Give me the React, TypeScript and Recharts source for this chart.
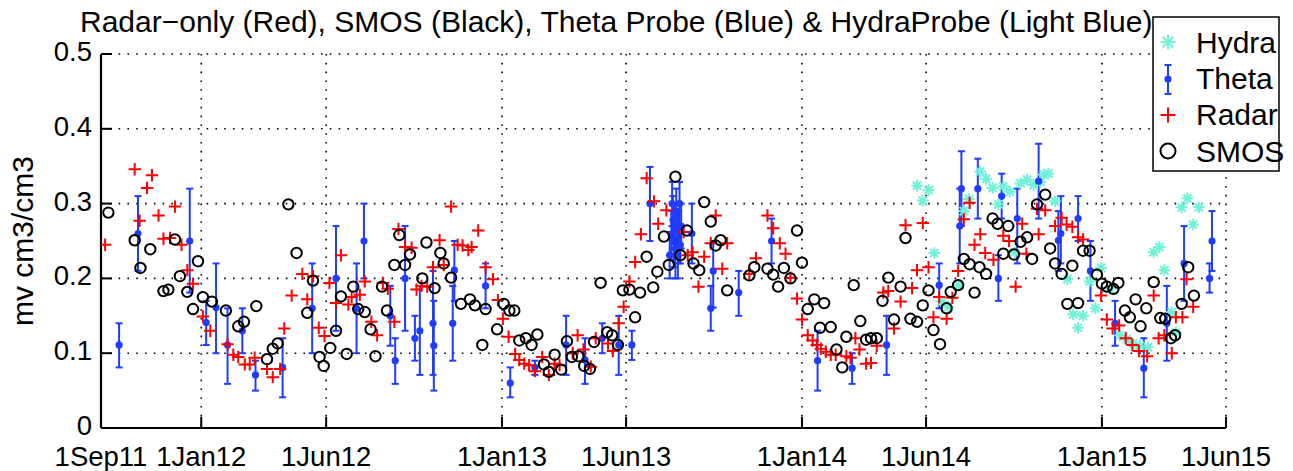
import React from "react";
import { ScatterChart, Scatter, XAxis, YAxis, CartesianGrid, ErrorBar } from "recharts";

// x values are days since 1 Sep 2011
const tickDays = [0, 122, 274, 488, 639, 853, 1004, 1218, 1369];
const tickLabels = ["1Sep11", "1Jan12", "1Jun12", "1Jan13", "1Jun13", "1Jan14", "1Jun14", "1Jan15", "1Jun15"];
const yTicks = [0, 0.1, 0.2, 0.3, 0.4, 0.5];

const titleText = "Radar\u2212only (Red), SMOS (Black), Theta Probe (Blue) & HydraProbe (Light Blue)";
const yLabel = "mv cm3/cm3";
const legendNames = ["Hydra", "Theta", "Radar", "SMOS"];

// [day, mv]
const radar: [number, number][] = [
  [5, 0.245], [41, 0.346], [47, 0.277], [56, 0.321], [62, 0.338], [70, 0.284], [76, 0.253], [84, 0.254],
  [90, 0.296], [98, 0.245], [105, 0.211], [112, 0.193], [124, 0.149], [133, 0.13], [154, 0.112], [161, 0.098],
  [167, 0.095], [175, 0.085], [181, 0.085], [187, 0.094], [202, 0.079], [209, 0.068], [218, 0.079], [223, 0.133],
  [232, 0.177], [245, 0.206], [251, 0.172], [258, 0.203], [265, 0.134], [272, 0.123], [278, 0.194], [286, 0.167],
  [292, 0.231], [301, 0.165], [305, 0.175], [315, 0.178], [321, 0.196], [329, 0.142], [336, 0.124], [343, 0.194],
  [349, 0.186], [357, 0.142], [362, 0.266], [370, 0.242], [378, 0.241], [384, 0.185], [390, 0.19], [397, 0.189],
  [404, 0.215], [412, 0.251], [417, 0.218], [426, 0.296], [434, 0.245], [440, 0.244], [447, 0.238], [451, 0.242],
  [459, 0.264], [468, 0.215], [477, 0.199], [483, 0.171], [489, 0.146], [496, 0.122], [504, 0.099], [509, 0.091],
  [515, 0.086], [521, 0.084], [528, 0.076], [537, 0.095], [545, 0.071], [552, 0.086], [558, 0.084], [574, 0.1],
  [580, 0.124], [587, 0.105], [596, 0.082], [602, 0.12], [617, 0.113], [623, 0.103], [630, 0.14], [636, 0.162],
  [643, 0.196], [650, 0.222], [657, 0.259], [664, 0.334], [673, 0.303], [678, 0.273], [688, 0.291], [709, 0.262],
  [714, 0.231], [720, 0.235], [727, 0.189], [734, 0.229], [742, 0.247], [748, 0.284], [756, 0.213], [762, 0.247],
  [789, 0.206], [797, 0.227], [811, 0.284], [818, 0.267], [826, 0.247], [833, 0.233], [839, 0.201], [847, 0.173],
  [853, 0.145], [860, 0.124], [866, 0.117], [871, 0.111], [876, 0.106], [882, 0.102], [888, 0.098], [894, 0.098],
  [907, 0.096], [912, 0.094], [918, 0.12], [923, 0.105], [931, 0.086], [937, 0.087], [944, 0.11], [952, 0.181],
  [958, 0.183], [965, 0.133], [973, 0.169], [979, 0.271], [987, 0.187], [993, 0.211], [1000, 0.274], [1007, 0.215],
  [1013, 0.148], [1020, 0.175], [1029, 0.146], [1036, 0.174], [1043, 0.21], [1050, 0.279], [1057, 0.301], [1063, 0.245],
  [1070, 0.259], [1076, 0.234], [1086, 0.225], [1098, 0.257], [1105, 0.25], [1113, 0.189], [1121, 0.273], [1126, 0.233],
  [1139, 0.293], [1141, 0.259], [1149, 0.291], [1161, 0.27], [1169, 0.281], [1175, 0.272], [1182, 0.269], [1189, 0.255],
  [1195, 0.252], [1217, 0.177], [1224, 0.145], [1231, 0.133], [1239, 0.137], [1247, 0.12], [1255, 0.111], [1263, 0.103],
  [1273, 0.096], [1281, 0.177], [1287, 0.12], [1294, 0.124], [1303, 0.1], [1308, 0.148], [1316, 0.148], [1321, 0.199],
  [1329, 0.162],
];

const smos: [number, number][] = [
  [9, 0.288], [41, 0.251], [48, 0.214], [60, 0.239], [76, 0.183], [82, 0.185], [90, 0.252], [96, 0.203],
  [105, 0.182], [112, 0.159], [118, 0.223], [124, 0.175], [135, 0.169], [152, 0.157], [167, 0.136], [174, 0.142],
  [189, 0.163], [202, 0.092], [209, 0.106], [215, 0.113], [228, 0.299], [238, 0.234], [251, 0.154], [258, 0.197],
  [266, 0.095], [271, 0.083], [279, 0.107], [286, 0.13], [292, 0.176], [299, 0.099], [307, 0.189], [313, 0.159],
  [321, 0.155], [328, 0.132], [334, 0.096], [342, 0.189], [348, 0.157], [357, 0.218], [363, 0.258], [370, 0.218],
  [376, 0.232], [391, 0.2], [396, 0.248], [406, 0.187], [413, 0.234], [417, 0.22], [426, 0.201], [438, 0.166],
  [449, 0.172], [455, 0.164], [464, 0.111], [468, 0.159], [482, 0.132], [490, 0.166], [497, 0.157], [503, 0.157],
  [509, 0.117], [517, 0.12], [524, 0.111], [531, 0.125], [539, 0.085], [545, 0.075], [552, 0.098], [560, 0.078],
  [567, 0.116], [573, 0.095], [581, 0.096], [588, 0.083], [595, 0.079], [600, 0.115], [608, 0.194], [616, 0.128],
  [622, 0.124], [629, 0.111], [635, 0.184], [643, 0.185], [650, 0.148], [656, 0.181], [664, 0.229], [672, 0.188],
  [677, 0.209], [685, 0.256], [691, 0.218], [699, 0.336], [705, 0.231], [713, 0.264], [721, 0.22], [728, 0.211],
  [734, 0.302], [742, 0.276], [748, 0.244], [754, 0.251], [762, 0.184], [789, 0.204], [795, 0.215], [811, 0.213],
  [818, 0.205], [824, 0.189], [831, 0.214], [839, 0.2], [847, 0.264], [853, 0.221], [860, 0.159], [868, 0.172],
  [875, 0.134], [880, 0.167], [888, 0.135], [895, 0.105], [902, 0.081], [907, 0.122], [916, 0.191], [924, 0.143],
  [931, 0.118], [937, 0.12], [944, 0.12], [951, 0.17], [958, 0.201], [965, 0.145], [973, 0.189], [979, 0.254],
  [985, 0.146], [993, 0.142], [1000, 0.164], [1007, 0.184], [1013, 0.131], [1021, 0.112], [1029, 0.16], [1034, 0.182],
  [1043, 0.191], [1050, 0.226], [1057, 0.219], [1063, 0.181], [1069, 0.215], [1077, 0.206], [1085, 0.28], [1091, 0.273],
  [1098, 0.233], [1104, 0.27], [1111, 0.232], [1119, 0.249], [1127, 0.255], [1133, 0.226], [1139, 0.299], [1149, 0.312],
  [1155, 0.24], [1161, 0.22], [1169, 0.206], [1176, 0.166], [1182, 0.217], [1189, 0.167], [1195, 0.237], [1203, 0.237],
  [1212, 0.205], [1218, 0.193], [1224, 0.189], [1232, 0.186], [1238, 0.194], [1246, 0.157], [1252, 0.148], [1259, 0.172],
  [1265, 0.136], [1272, 0.16], [1281, 0.195], [1289, 0.147], [1295, 0.146], [1302, 0.12], [1307, 0.124], [1315, 0.166],
  [1323, 0.215], [1330, 0.177],
];

const hydra: [number, number][] = [
  [993, 0.324], [1000, 0.304], [1007, 0.318], [1014, 0.234], [1023, 0.169], [1031, 0.162], [1044, 0.191], [1050, 0.29],
  [1056, 0.306], [1070, 0.343], [1077, 0.333], [1085, 0.321], [1092, 0.299], [1098, 0.323], [1106, 0.316], [1112, 0.235],
  [1119, 0.327], [1127, 0.332], [1135, 0.325], [1143, 0.329], [1147, 0.339], [1153, 0.34], [1161, 0.303], [1176, 0.199],
  [1183, 0.152], [1189, 0.134], [1195, 0.15], [1203, 0.196], [1210, 0.16], [1217, 0.214], [1228, 0.186], [1240, 0.124],
  [1248, 0.119], [1256, 0.113], [1264, 0.11], [1274, 0.108], [1281, 0.235], [1288, 0.242], [1294, 0.211], [1303, 0.155],
  [1308, 0.128], [1315, 0.295], [1322, 0.307], [1329, 0.272], [1336, 0.295],
];

// [day, mv, low, high]
const theta: [number, number, number, number][] = [
  [22, 0.111, 0.081, 0.14], [45, 0.26, 0.21, 0.31], [108, 0.25, 0.181, 0.32], [128, 0.141, 0.111, 0.17],
  [140, 0.161, 0.1, 0.22], [154, 0.111, 0.059, 0.16], [172, 0.13, 0.1, 0.16], [188, 0.071, 0.05, 0.09],
  [221, 0.081, 0.041, 0.12], [257, 0.16, 0.1, 0.22], [286, 0.2, 0.13, 0.27], [311, 0.16, 0.1, 0.22],
  [320, 0.25, 0.2, 0.3], [352, 0.15, 0.11, 0.19], [358, 0.09, 0.059, 0.12], [370, 0.2, 0.13, 0.27],
  [382, 0.12, 0.09, 0.15], [388, 0.13, 0.071, 0.19], [404, 0.14, 0.071, 0.21], [405, 0.11, 0.05, 0.17],
  [428, 0.14, 0.09, 0.19], [430, 0.211, 0.17, 0.25], [468, 0.19, 0.16, 0.22], [498, 0.06, 0.041, 0.081],
  [528, 0.081, 0.071, 0.09], [566, 0.111, 0.071, 0.15], [589, 0.091, 0.059, 0.12], [610, 0.12, 0.1, 0.14],
  [630, 0.111, 0.071, 0.15], [646, 0.111, 0.091, 0.13], [668, 0.3, 0.25, 0.349],
  [692, 0.231, 0.2, 0.262], [694, 0.258, 0.225, 0.29], [695, 0.3, 0.27, 0.329], [696, 0.278, 0.25, 0.31],
  [697, 0.249, 0.215, 0.28], [698, 0.269, 0.24, 0.3], [699, 0.24, 0.2, 0.27], [700, 0.29, 0.26, 0.32],
  [701, 0.262, 0.23, 0.29], [702, 0.231, 0.2, 0.26], [703, 0.255, 0.22, 0.29], [704, 0.3, 0.27, 0.329],
  [705, 0.245, 0.22, 0.27], [706, 0.27, 0.24, 0.3],
  [719, 0.26, 0.22, 0.3], [742, 0.16, 0.13, 0.19], [745, 0.21, 0.161, 0.25], [776, 0.181, 0.15, 0.21],
  [816, 0.25, 0.22, 0.28], [872, 0.09, 0.05, 0.13], [914, 0.08, 0.059, 0.1], [956, 0.111, 0.071, 0.15],
  [1020, 0.191, 0.16, 0.22], [1045, 0.27, 0.22, 0.32], [1047, 0.32, 0.27, 0.37], [1067, 0.32, 0.28, 0.36],
  [1092, 0.2, 0.17, 0.231], [1096, 0.31, 0.28, 0.34], [1115, 0.28, 0.22, 0.32], [1141, 0.33, 0.28, 0.38],
  [1165, 0.251, 0.21, 0.29], [1168, 0.26, 0.22, 0.31], [1189, 0.28, 0.25, 0.31], [1204, 0.21, 0.17, 0.25],
  [1234, 0.14, 0.11, 0.17], [1269, 0.08, 0.041, 0.12], [1297, 0.14, 0.09, 0.19], [1318, 0.22, 0.17, 0.27],
  [1349, 0.2, 0.181, 0.22], [1352, 0.25, 0.21, 0.29],
];

const RED = "#ff0000";
const BLUE = "#1f3cff";
const CYAN = "#6ff2d8";
const FONT = "'Liberation Sans', Arial, Helvetica, sans-serif";

const toPoints = (rows: [number, number][]) => rows.map(([d, v]) => ({ d, v }));
const radarData = toPoints(radar);
const smosData = toPoints(smos);
const hydraData = toPoints(hydra);
const thetaData = theta.map(([d, v, lo, hi]) => ({ d, v, err: [v - lo, hi - v] }));

const center = (p: any) => ({
  cx: p.cx ?? p.x + (p.width || 0) / 2,
  cy: p.cy ?? p.y + (p.height || 0) / 2,
});

const PlusMark = ({ cx, cy, s = 6.2, w = 2 }: any) => (
  <path d={`M${cx - s},${cy}h${2 * s}M${cx},${cy - s}v${2 * s}`} stroke={RED} strokeWidth={w} fill="none" />
);
const RingMark = ({ cx, cy, r = 5.2, w = 2 }: any) => (
  <circle cx={cx} cy={cy} r={r} fill="none" stroke="#000" strokeWidth={w} />
);
const StarMark = ({ cx, cy, s = 5.8, w = 2 }: any) => {
  const k = s * 0.7071;
  return (
    <path
      d={`M${cx - s},${cy}h${2 * s}M${cx},${cy - s}v${2 * s}M${cx - k},${cy - k}l${2 * k},${2 * k}M${cx - k},${cy + k}l${2 * k},${-2 * k}`}
      stroke={CYAN}
      strokeWidth={w}
      fill="none"
    />
  );
};
const DotMark = ({ cx, cy, r = 3.6 }: any) => <circle cx={cx} cy={cy} r={r} fill={BLUE} />;

const XTick = (props: any) => {
  const { x, y, payload } = props;
  const label = tickLabels[tickDays.indexOf(payload.value)] ?? "";
  return (
    <g>
      <line x1={x} y1={y} x2={x} y2={y - 11} stroke="#000" strokeWidth={2} />
      <text x={x} y={y + 38} textAnchor="middle" fontSize={27.5} fontFamily={FONT} fill="#000">
        {label}
      </text>
    </g>
  );
};

const YTick = (props: any) => {
  const { x, y, payload } = props;
  return (
    <g>
      <line x1={x} y1={y} x2={x + 11} y2={y} stroke="#000" strokeWidth={2} />
      <text x={x - 9} y={y + 7} textAnchor="end" fontSize={27.5} fontFamily={FONT} fill="#000">
        {String(payload.value)}
      </text>
    </g>
  );
};

const Overlay = () => {
  const rows = [42, 79, 115, 151];
  const base = [53, 89, 125, 162];
  const mx = 1168;
  return (
    <svg
      width={1293}
      height={471}
      style={{ position: "absolute", left: 0, top: 0, pointerEvents: "none" }}
    >
      <text x={80} y={32} fontSize={30} fontFamily={FONT} fill="#000">
        {titleText}
      </text>
      <text
        x={33}
        y={241}
        transform="rotate(-90, 33, 241)"
        textAnchor="middle"
        fontSize={30}
        fontFamily={FONT}
        fill="#000"
      >
        {yLabel}
      </text>
      <rect x={1153} y={17} width={126} height={154} fill="#fff" stroke="#000" strokeWidth={1.5} />
      <StarMark cx={mx} cy={rows[0]} s={7.5} w={2} />
      <g>
        <line x1={mx} y1={rows[1] - 14} x2={mx} y2={rows[1] + 15} stroke={BLUE} strokeWidth={2} />
        <line x1={mx - 3.5} y1={rows[1] - 14} x2={mx + 3.5} y2={rows[1] - 14} stroke={BLUE} strokeWidth={2} />
        <line x1={mx - 3.5} y1={rows[1] + 15} x2={mx + 3.5} y2={rows[1] + 15} stroke={BLUE} strokeWidth={2} />
        <DotMark cx={mx} cy={rows[1]} r={3.6} />
      </g>
      <PlusMark cx={mx} cy={rows[2]} s={7.5} w={2} />
      <RingMark cx={mx} cy={rows[3]} r={7.5} w={2} />
      {legendNames.map((n, i) => (
        <text key={n} x={1196} y={base[i]} fontSize={30} fontFamily={FONT} fill="#000">
          {n}
        </text>
      ))}
    </svg>
  );
};

export default function App() {
  return (
    <div style={{ position: "absolute", left: 0, top: 0, width: 1293, height: 471, background: "#fff" }}>
      <ScatterChart width={1293} height={471} margin={{ top: 54, right: 67, bottom: 0, left: 0 }}>
        <CartesianGrid stroke="#000" strokeWidth={1.6} strokeDasharray="1.6 7.2" />
        <XAxis
          type="number"
          dataKey="d"
          domain={[0, 1369]}
          ticks={tickDays}
          interval={0}
          height={43}
          tickSize={0}
          tickMargin={0}
          axisLine={{ stroke: "#000", strokeWidth: 2.2 }}
          tick={<XTick />}
          allowDataOverflow
        />
        <YAxis
          type="number"
          dataKey="v"
          domain={[0, 0.5]}
          ticks={yTicks}
          interval={0}
          width={101}
          tickSize={0}
          tickMargin={0}
          axisLine={{ stroke: "#000", strokeWidth: 2.2 }}
          tick={<YTick />}
          allowDataOverflow
        />
        <Scatter
          name="Hydra"
          data={hydraData}
          isAnimationActive={false}
          shape={(p: any) => <StarMark {...center(p)} />}
        />
        <Scatter
          name="Theta"
          data={thetaData}
          isAnimationActive={false}
          shape={(p: any) => <DotMark {...center(p)} />}
        >
          <ErrorBar dataKey="err" direction="y" width={3.5} stroke={BLUE} strokeWidth={2} isAnimationActive={false} />
        </Scatter>
        <Scatter
          name="Radar"
          data={radarData}
          isAnimationActive={false}
          shape={(p: any) => <PlusMark {...center(p)} />}
        />
        <Scatter
          name="SMOS"
          data={smosData}
          isAnimationActive={false}
          shape={(p: any) => <RingMark {...center(p)} />}
        />
      </ScatterChart>
      <Overlay />
    </div>
  );
}
